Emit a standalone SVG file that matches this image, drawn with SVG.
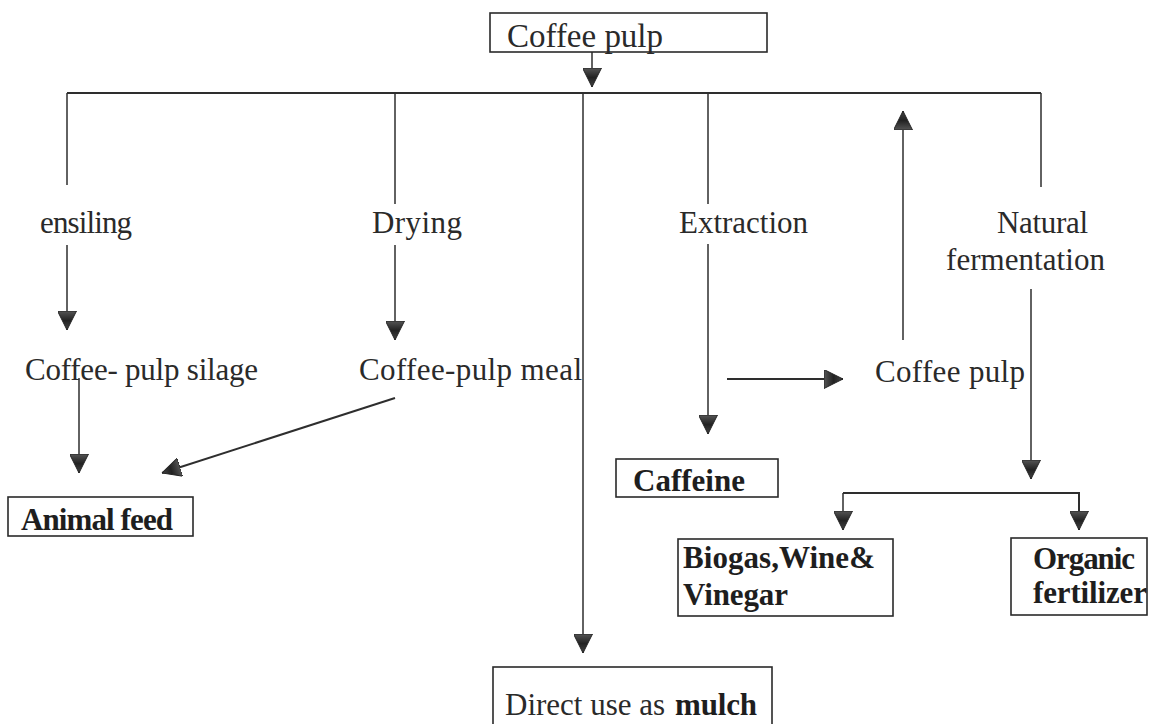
<svg xmlns="http://www.w3.org/2000/svg" width="1149" height="724" viewBox="0 0 1149 724">
<style>
.t{font-family:"Liberation Serif","Times New Roman",serif;font-size:31px;fill:#2a2a2a}
.b{font-family:"Liberation Serif","Times New Roman",serif;font-size:31px;font-weight:bold;fill:#1e1e1e}
.box{fill:none;stroke:#2a2a2a;stroke-width:1.6}
.ln{fill:none;stroke:#2e2e2e;stroke-width:1.5}
.lna{fill:none;stroke:#2e2e2e;stroke-width:1.5;marker-end:url(#ah)}
</style>
<defs>
<linearGradient id="g" x1="0" y1="0" x2="1" y2="0">
<stop offset="0" stop-color="#555"/>
<stop offset="0.5" stop-color="#222"/>
<stop offset="1" stop-color="#444"/>
</linearGradient>
<marker id="ah" viewBox="0 0 20 20" refX="20" refY="10" markerWidth="19" markerHeight="19" markerUnits="userSpaceOnUse" orient="auto">
<path d="M0,0 L20,10 L0,20 z" fill="url(#g)" stroke="#222" stroke-width="1"/>
</marker>
</defs>
<rect width="1149" height="724" fill="#ffffff"/>

<g id="connectors">
<line class="lna" x1="592" y1="52" x2="592" y2="87"/>
<line class="ln" x1="67" y1="93" x2="1041" y2="93" style="stroke-width:2"/>
<line class="ln" x1="67" y1="93" x2="67" y2="185"/>
<line class="lna" x1="67" y1="245" x2="67" y2="330"/>
<line class="ln" x1="395" y1="93" x2="395" y2="204"/>
<line class="lna" x1="395" y1="245" x2="395" y2="340"/>
<line class="lna" x1="583" y1="93" x2="583" y2="653"/>
<line class="ln" x1="708" y1="93" x2="708" y2="204"/>
<line class="lna" x1="708" y1="244" x2="708" y2="434"/>
<line class="ln" x1="1041" y1="93" x2="1041" y2="187"/>
<line class="lna" x1="1031" y1="289" x2="1031" y2="479"/>
<line class="lna" x1="903" y1="340" x2="903" y2="111"/>
<line class="lna" x1="727" y1="379" x2="843" y2="379" style="stroke-width:2"/>
<line class="lna" x1="79" y1="378" x2="79" y2="473"/>
<line class="lna" x1="395" y1="398" x2="162" y2="473" style="stroke-width:2"/>
<path class="lna" d="M843,493 H1079 V530" style="stroke-width:2"/>
<line class="lna" x1="843" y1="493" x2="843" y2="530"/>
</g>

<g id="coffee-pulp-top">
<rect class="box" x="490" y="13" width="277" height="39"/>
<text class="t" x="507" y="47" style="font-size:33px" textLength="156">Coffee pulp</text>
</g>
<g id="ensiling"><text class="t" x="40" y="233" textLength="92">ensiling</text></g>
<g id="drying"><text class="t" x="372" y="233" textLength="90">Drying</text></g>
<g id="extraction"><text class="t" x="679" y="233" textLength="129">Extraction</text></g>
<g id="natural-fermentation">
<text class="t" x="997" y="233" textLength="91">Natural</text>
<text class="t" x="946" y="270" textLength="159">fermentation</text>
</g>
<g id="silage"><text class="t" x="25" y="380" textLength="233">Coffee- pulp silage</text></g>
<g id="meal"><text class="t" x="359" y="380" textLength="223">Coffee-pulp meal</text></g>
<g id="coffee-pulp-right"><text class="t" x="875" y="382" textLength="150">Coffee pulp</text></g>
<g id="animal-feed">
<rect class="box" x="8" y="497" width="185" height="39"/>
<text class="b" x="21" y="530" textLength="152">Animal feed</text>
</g>
<g id="caffeine">
<rect class="box" x="616" y="459" width="162" height="38"/>
<text class="b" x="633" y="491" textLength="112">Caffeine</text>
</g>
<g id="biogas">
<rect class="box" x="678" y="539" width="215" height="77"/>
<text class="b" x="683" y="568" textLength="192">Biogas,Wine&amp;</text>
<text class="b" x="683" y="605" textLength="105">Vinegar</text>
</g>
<g id="organic">
<rect class="box" x="1011" y="538" width="136" height="77"/>
<text class="b" x="1033" y="569" textLength="102">Organic</text>
<text class="b" x="1033" y="603" textLength="114">fertilizer</text>
</g>
<g id="mulch">
<rect class="box" x="493" y="667" width="279" height="70"/>
<text class="t" x="505" y="715"><tspan textLength="160">Direct use as</tspan><tspan class="b" x="675" textLength="82">mulch</tspan></text>
</g>
</svg>
